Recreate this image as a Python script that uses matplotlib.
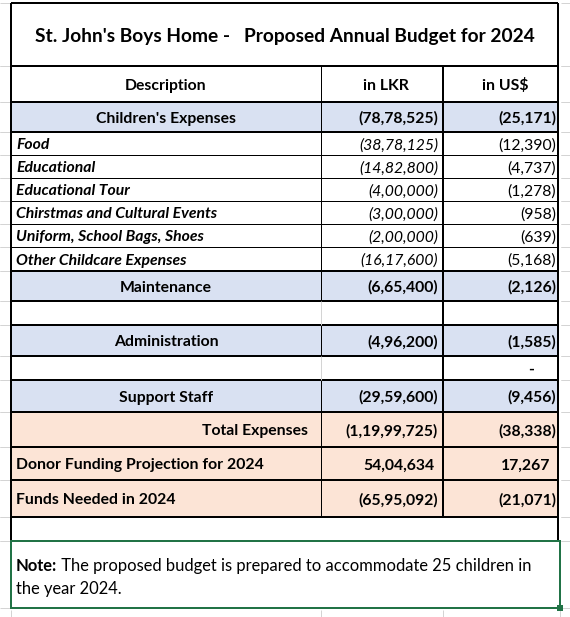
import matplotlib
matplotlib.use("Agg")
import matplotlib.pyplot as plt
from matplotlib.patches import Rectangle

plt.rcParams['font.family'] = ['Lato', 'DejaVu Sans']

# ---------------------------------------------------------------------------
# Data
# ---------------------------------------------------------------------------
title = "St. John's Boys Home -   Proposed Annual Budget for 2024"
headers = ["Description", "in LKR", "in US$"]

items = ["Food", "Educational", "Educational Tour", "Chirstmas and Cultural Events",
         "Uniform, School Bags, Shoes", "Other Childcare Expenses"]
items_lkr = [-3878125, -1482800, -400000, -300000, -200000, -1617600]
items_usd = [-12390, -4737, -1278, -958, -639, -5168]

groups = ["Children's Expenses", "Maintenance", "Administration", "Support Staff"]
groups_lkr = [-7878525, -665400, -496200, -2959600]
groups_usd = [-25171, -2126, -1585, -9456]

totals = ["Total Expenses", "Donor Funding Projection for 2024", "Funds Needed in 2024"]
totals_lkr = [-11999725, 5404634, -6595092]
totals_usd = [-38338, 17267, -21071]

note_bold = "Note:"
note_text = [" The proposed budget is prepared to accommodate 25 children in",
             "the year 2024."]

# ---------------------------------------------------------------------------
# Layout (pixels)
# ---------------------------------------------------------------------------
W, H = 570, 617
X0, X1, X2, X3 = 11, 321, 443, 558
BLUE = '#D9E1F2'
PEACH = '#FCE4D6'
GRID = '#D4D4D4'
GREEN = '#217346'
px = 0.72      # one pixel in points
DY = 1.8       # text sits a little low in its cell, like Excel
FS = 11.3      # body text
FS_TITLE = 13.8
FS_NOTE = 11.9

y_title = (3, 66)
y_head = (66, 102)
y_group = [(102, 132), (271, 301), (325, 356), (380, 412)]
y_items = [(132, 155), (155, 178), (178, 201), (201, 224), (224, 247), (247, 271)]
y_blank = [(301, 325), (356, 380)]
y_total = [(412, 447), (447, 480), (480, 517)]
y_note = (541, 608)


def indian(v):
    s = str(abs(v))
    if len(s) > 3:
        head, tail = s[:-3], s[-3:]
        parts = []
        while len(head) > 2:
            parts.insert(0, head[-2:])
            head = head[:-2]
        if head:
            parts.insert(0, head)
        s = ",".join(parts + [tail])
    return s


def western(v):
    return f"{abs(v):,}"


def fmt(v, f):
    return f"({f(v)})" if v < 0 else f(v)


fig = plt.figure(figsize=(W / 100, H / 100), dpi=100)
ax = fig.add_axes([0, 0, 1, 1])
ax.set_xlim(0, W)
ax.set_ylim(H, 0)
ax.axis('off')


def fill(y, color):
    ax.add_patch(Rectangle((X0, y[0]), X3 - X0, y[1] - y[0], color=color, lw=0, zorder=0))


def hline(y, xa, xb, lw=1, color='black'):
    ax.plot([xa, xb], [y, y], color=color, lw=lw * px, solid_capstyle='butt', zorder=2)


def vline(x, ya, yb, lw=1, color='black'):
    ax.plot([x, x], [ya, yb], color=color, lw=lw * px, solid_capstyle='butt', zorder=2)


def cell_text(x, y, s, ha='left', **kw):
    return ax.text(x, sum(y) / 2 + DY, s, ha=ha, va='center', **kw)


def put_values(y, lkr, usd, **kw):
    cell_text(438 if lkr < 0 else 434, y, fmt(lkr, indian), ha='right', **kw)
    kw.pop('style', None)
    cell_text(556 if usd < 0 else 550, y, fmt(usd, western), ha='right', **kw)


# Excel gridlines around the sheet
all_rows = [y_title, y_head] + y_group + y_items + y_blank + y_total + [(517, 541), y_note]
for a, b in all_rows:
    for yy in (a, b):
        hline(yy, 0, X0 - 1, color=GRID)
        hline(yy, X3 + 3, W, color=GRID)
for xx in (X0, X1, X2, X3 + 2):
    vline(xx, 610, H, color=GRID)

# fills
for y in y_group:
    fill(y, BLUE)
for y in y_total:
    fill(y, PEACH)

# title and header
cell_text((X0 + X3) / 2, y_title, title, ha='center', fontsize=FS_TITLE, fontweight='bold')
cell_text((X0 + X1) / 2, y_head, headers[0], ha='center', fontsize=FS, fontweight='bold')
cell_text((X1 + X2) / 2 + 4, y_head, headers[1], ha='center', fontsize=FS, fontweight='bold')
cell_text((X2 + X3) / 2 + 5, y_head, headers[2], ha='center', fontsize=FS, fontweight='bold')

# group rows
for name, y, l, u in zip(groups, y_group, groups_lkr, groups_usd):
    cell_text((X0 + X1) / 2, y, name, ha='center', fontsize=FS, fontweight='bold')
    put_values(y, l, u, fontsize=FS, fontweight='bold')

# item rows
for name, y, l, u in zip(items, y_items, items_lkr, items_usd):
    cell_text(X0 + 5, y, name, fontsize=FS, fontweight='bold', style='italic')
    put_values(y, l, u, fontsize=FS, style='italic')

# dash in blank row after Administration
cell_text(531, y_blank[1], "-", ha='center', fontsize=FS, fontweight='bold')

# totals
for i, (name, y, l, u) in enumerate(zip(totals, y_total, totals_lkr, totals_usd)):
    if i == 0:
        cell_text(X1 - 13, y, name, ha='right', fontsize=FS, fontweight='bold')
    else:
        cell_text(X0 + 5, y, name, fontsize=FS, fontweight='bold')
    put_values(y, l, u, fontsize=FS, fontweight='bold')

# note
yn1, yn2 = 564 + DY, 587 + DY
t = ax.text(X0 + 5, yn1, note_bold, ha='left', va='center', fontsize=FS_NOTE, fontweight='bold')
fig.canvas.draw()
bb = t.get_window_extent()
inv = ax.transData.inverted()
xe = inv.transform((bb.x1, bb.y0))[0]
ax.text(xe, yn1, note_text[0], ha='left', va='center', fontsize=FS_NOTE)
ax.text(X0 + 5, yn2, note_text[1], ha='left', va='center', fontsize=FS_NOTE)

# horizontal borders
thick = [y_title[0], y_title[1], y_head[1], 132, 271, 301, 325, 356, 380, 412, 447, 480, 517]
thin = [155, 178, 201, 224, 247]
for yy in thick:
    hline(yy, X0, X3, lw=2)
for yy in thin:
    hline(yy, X0, X3, lw=1)

# vertical borders
vline(X0, y_title[0], 541, lw=2)
vline(X3, y_title[0], 541, lw=2)
vline(X2, 66, 517, lw=2)
for a, b in [(66, 301), (325, 356), (380, 517)]:
    vline(X1, a, b, lw=1)
for a, b in y_blank:
    vline(X1, a, b, lw=1, color=GRID)

# selected note cell
ax.add_patch(Rectangle((X0, y_note[0]), X3 + 2 - X0, y_note[1] - y_note[0], fill=False,
                       edgecolor=GREEN, lw=2 * px, zorder=3))
ax.add_patch(Rectangle((X3 - 1, y_note[1] - 3), 6, 6, color=GREEN, lw=0, zorder=4))

fig.savefig("out.png", dpi=100)
